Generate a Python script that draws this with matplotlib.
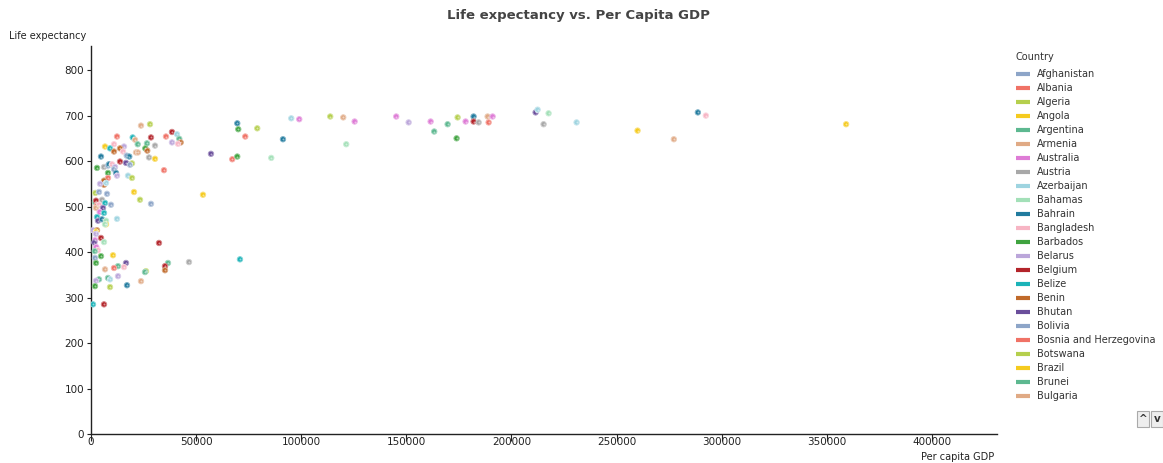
import numpy as np
import matplotlib.pyplot as plt
from matplotlib.lines import Line2D
from matplotlib.patches import Rectangle
from matplotlib.colors import to_rgb

# palette used for the countries (cycles every 18 countries)
palette = ['#8DA5C8', '#F07266', '#B5CF4D', '#F5CB1F', '#5DB890', '#E0AA85',
           '#DE7CD6', '#A8A8A8', '#9ED4E0', '#A3E0B8', '#217B9E', '#F7B5C4',
           '#3FA33F', '#BBA6DA', '#B3242A', '#1BB3B8', '#C06A2A', '#6A4E9B']

countries = ['Afghanistan', 'Albania', 'Algeria', 'Angola', 'Argentina', 'Armenia',
             'Australia', 'Austria', 'Azerbaijan', 'Bahamas', 'Bahrain', 'Bangladesh',
             'Barbados', 'Belarus', 'Belgium', 'Belize', 'Benin', 'Bhutan', 'Bolivia',
             'Bosnia and Herzegovina', 'Botswana', 'Brazil', 'Brunei', 'Bulgaria']

# per capita gdp, life expectancy, colour series of each point
gdp = [23780, 28060, 12366, 19830, 20926, 28536, 35670, 38524, 40900, 42000,
       42660, 41380, 38524, 26630, 22210, 30440, 10940, 6660, 9036, 15695,
       13790, 15220, 10940, 25825, 26776, 21400, 22350, 16980, 18215, 4756,
       27585, 30440, 13790, 16646, 19500, 18550, 2854, 6183, 8085, 8560,
       9988, 11414, 10940, 11890, 8085, 12366, 17600, 19500, 8085, 6183,
       6183, 4280, 7134, 34720, 57070, 69580, 70055, 79090, 73385, 91315,
       67200, 69580, 85750, 53270, 70864, 20450, 23300, 28536, 2045, 3805,
       7610, 1902, 2378, 5232, 6660, 9512, 2711, 3805, 5707, 2378,
       4138, 6183, 12366, 2854, 3329, 5232, 7134, 7134, 6660, 951,
       2854, 2378, 2378, 4756, 1902, 1570, 6183, 2520, 3329, 1760,
       32340, 10463, 4756, 1902, 2378, 16646, 36620, 35194, 35194, 46610,
       15695, 12841, 10940, 6660, 26158, 25682, 12841, 8085, 9036, 3805,
       2378, 23780, 17122, 9036, 1902, 951, 6183,
       95260, 99070, 113810, 120000, 125410, 121420, 145200, 151100, 161560, 163270,
       169650, 173920, 174400, 178200, 182000, 182000, 184400, 188670, 191050, 189150,
       211500, 212450, 217680, 215300, 231000, 260000, 277270, 288690, 292490, 359220]
life = [678, 681, 654, 652, 647, 652, 654, 664, 659, 649,
        641, 638, 641, 639, 637, 634, 637, 632, 628, 632,
        628, 621, 621, 628, 623, 619, 619, 612, 610, 610,
        608, 605, 599, 596, 595, 592, 585, 587, 590, 593,
        593, 587, 582, 574, 574, 568, 568, 563, 563, 557,
        548, 550, 552, 580, 616, 683, 670, 672, 654, 648,
        604, 610, 607, 526, 384, 532, 515, 506, 530, 532,
        528, 510, 513, 515, 508, 504, 502, 504, 497, 497,
        488, 486, 473, 477, 469, 472, 469, 461, 461, 448,
        448, 445, 440, 431, 426, 421, 422, 411, 404, 402,
        420, 393, 391, 387, 376, 376, 376, 369, 360, 378,
        367, 369, 365, 362, 358, 356, 347, 343, 340, 340,
        337, 336, 327, 323, 325, 285, 285,
        694, 692, 698, 696, 687, 637, 698, 685, 687, 665,
        681, 650, 696, 687, 698, 687, 685, 698, 698, 685,
        707, 713, 705, 681, 685, 667, 648, 707, 700, 681]
series = [5, 2, 1, 15, 5, 14, 1, 14, 8, 4,
          16, 11, 13, 4, 4, 7, 11, 3, 15, 13,
          16, 11, 16, 12, 16, 5, 5, 0, 10, 10,
          7, 3, 14, 17, 2, 0, 12, 7, 0, 10,
          11, 13, 0, 10, 12, 13, 8, 2, 1, 16,
          16, 13, 8, 1, 17, 10, 12, 2, 1, 10,
          1, 12, 9, 3, 15, 3, 2, 0, 2, 0,
          0, 4, 14, 7, 15, 0, 1, 11, 17, 5,
          6, 15, 8, 15, 17, 10, 9, 3, 9, 13,
          16, 3, 13, 14, 6, 17, 9, 6, 11, 4,
          14, 3, 12, 0, 12, 17, 4, 14, 16, 7,
          11, 4, 1, 5, 2, 4, 13, 4, 8, 4,
          13, 5, 10, 2, 12, 15, 14,
          8, 6, 2, 5, 6, 9, 6, 13, 6, 4,
          4, 12, 2, 6, 10, 14, 7, 5, 6, 1,
          17, 8, 9, 7, 8, 3, 5, 10, 11, 3]

W, H = 1163, 463
fig = plt.figure(figsize=(W / 100, H / 100), dpi=100)
ax = fig.add_axes([91 / W, 1 - 434 / H, (997 - 91) / W, (434 - 46) / H])

cols = [palette[s] for s in series]
edge = [tuple(0.55 * np.array(to_rgb(c)) + 0.45) for c in cols]
ax.scatter(gdp, life, s=15, c=cols, edgecolors=edge, linewidths=0.7, zorder=3)
# little highlight on each ball
ax.scatter(gdp, life, s=2, c='white', alpha=0.5, linewidths=0, zorder=4)

ax.set_xlim(0, 431000)
ax.set_ylim(0, 853)
ax.set_xticks(np.arange(0, 400001, 50000))
ax.set_yticks(np.arange(0, 801, 100))
for s in ['top', 'right']:
    ax.spines[s].set_visible(False)
for s in ['left', 'bottom']:
    ax.spines[s].set_linewidth(1.0)
    ax.spines[s].set_color('#222222')
ax.tick_params(axis='x', length=5, width=0.8, pad=-3, labelsize=7.5, colors='#222222')
ax.tick_params(axis='y', length=3, width=0.8, pad=2, labelsize=7.5, colors='#222222')

fig.text(578 / W, 1 - 15 / H, 'Life expectancy vs. Per Capita GDP', ha='center', va='center',
         fontsize=9.5, fontweight='bold', color='#444444')
fig.text(9 / W, 1 - 36 / H, 'Life expectancy', ha='left', va='center', fontsize=7, color='#222222')
fig.text(994 / W, 1 - 457 / H, 'Per capita GDP', ha='right', va='center', fontsize=7, color='#222222')

# legend drawn by hand (scrolling list in the original)
fig.text(1016 / W, 1 - 57 / H, 'Country', ha='left', va='center', fontsize=7, color='#333333')
for i, name in enumerate(countries):
    yy = 1 - (74 + 14 * i) / H
    fig.add_artist(Line2D([1016 / W, 1030 / W], [yy, yy], color=palette[i % 18], lw=3,
                          solid_capstyle='butt'))
    fig.text(1037 / W, yy, name, ha='left', va='center', fontsize=7, color='#333333')

# scroll buttons
for bx, sym in [(1137, '^'), (1151, 'v')]:
    fig.add_artist(Rectangle((bx / W, 1 - 427 / H), 12 / W, 16 / H, facecolor='#eeeeee',
                             edgecolor='#aaaaaa', lw=0.8))
    fig.text((bx + 6) / W, 1 - 419 / H, sym, ha='center', va='center', fontsize=7.5,
             fontweight='bold', color='#333333')

fig.savefig('out.png', dpi=100)
